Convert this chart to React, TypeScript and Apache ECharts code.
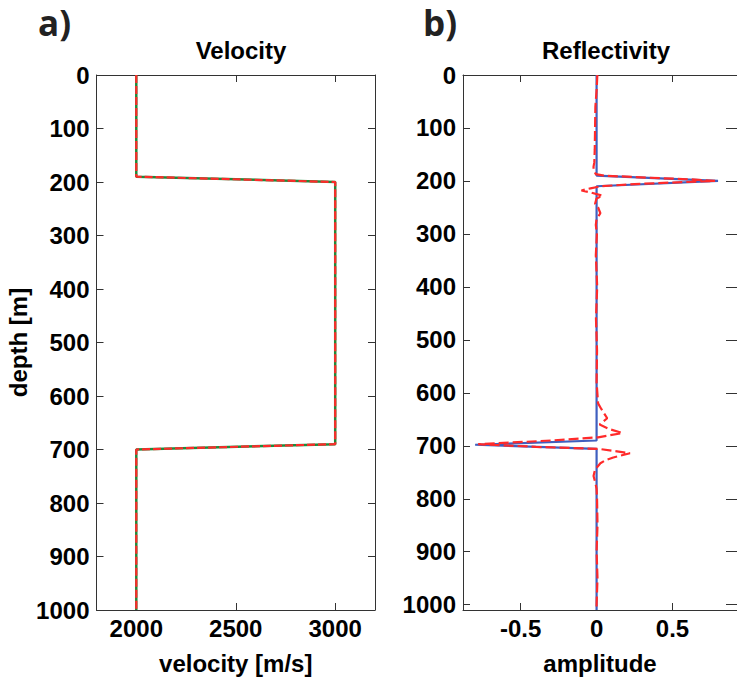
import React, { useEffect, useRef } from "react";
import * as echarts from "echarts";

// Velocity model (depth in m, velocity in m/s)
const velDepth = [0, 190, 200, 690, 700, 1000];
const trueVelocity = [2000, 2000, 3000, 3000, 2000, 2000];
const estVelocity = [2000, 2000, 3000, 3000, 2000, 2000];

// Reflectivity: true (blue)
const reflDepth = [0, 190, 200, 210, 690, 698, 706, 1010];
const reflTrue = [0, 0, 0.8, 0, 0, -0.8, 0, 0];

// Reflectivity: estimated (red dashed)
const estReflDepth = [
  0, 30, 60, 100, 140, 165, 173, 180, 187, 190, 194, 197, 200, 203, 206, 210, 214, 218, 221, 228, 233,
  243, 250, 261, 272, 283, 301, 340, 400, 460, 520, 580, 620, 630, 648, 660, 668, 676, 684, 690, 697,
  702, 706, 710, 714, 722, 727, 733, 745, 757, 770, 781, 800, 850, 900, 950, 1000, 1010,
];
const estRefl = [
  0.005, 0.0, -0.008, -0.01, -0.012, -0.015, -0.02, -0.02, -0.005, 0.05, 0.35, 0.62, 0.78, 0.5, 0.25,
  0.03, -0.04, -0.1, -0.05, 0.04, 0.0, -0.01, 0.01, 0.025, 0.0, -0.005, 0.002, -0.005, 0.004, -0.004,
  0.003, 0.0, 0.01, 0.03, 0.07, 0.02, 0.08, 0.17, 0.01, -0.3, -0.78, -0.4, 0.02, 0.12, 0.22, 0.11,
  0.06, 0.025, -0.01, -0.02, -0.008, 0.0, 0.003, 0.006, 0.0, 0.006, 0.0, 0.0,
];

const velTicks = [2000, 2500, 3000];
const ampTicks = [-0.5, 0, 0.5];
const depthTicks = [0, 100, 200, 300, 400, 500, 600, 700, 800, 900, 1000];

const FONT = "'Liberation Sans', Arial, sans-serif";
const AXIS_COLOR = "#333";

export default function App() {
  const ref = useRef<HTMLDivElement>(null);

  useEffect(() => {
    document.body.style.margin = "0";
    document.body.style.overflow = "hidden";
    if (!ref.current) return;
    const chart = echarts.init(ref.current, null, { renderer: "svg" });

    const tickStyle = { show: true, inside: true, length: 7, lineStyle: { color: AXIS_COLOR, width: 1 } };
    const lineStyle = { show: true, lineStyle: { color: AXIS_COLOR, width: 1 } };
    const labelStyle = {
      fontFamily: FONT,
      fontWeight: "bold" as const,
      fontSize: 24,
      color: "#000",
      formatter: (v: number) => String(v),
    };
    const nameStyle = { fontFamily: FONT, fontWeight: "bold" as const, fontSize: 24, color: "#000" };

    const xAxisPair = (gridIndex: number, min: number, max: number, ticks: number[], name: string) => [
      {
        type: "value",
        gridIndex,
        position: "bottom",
        min,
        max,
        name,
        nameLocation: "middle",
        nameGap: 41,
        nameTextStyle: nameStyle,
        axisLine: { ...lineStyle, onZero: false },
        axisTick: { ...tickStyle, customValues: ticks },
        axisLabel: { ...labelStyle, margin: 6, customValues: ticks },
        splitLine: { show: false },
      },
      {
        type: "value",
        gridIndex,
        position: "top",
        min,
        max,
        axisLine: { ...lineStyle, onZero: false },
        axisTick: { ...tickStyle, customValues: ticks },
        axisLabel: { show: false },
        splitLine: { show: false },
      },
    ];

    const yAxisPair = (gridIndex: number, max: number, name: string, rightLine: boolean, rightTickLen: number) => [
      {
        type: "value",
        gridIndex,
        position: "left",
        inverse: true,
        min: 0,
        max,
        name,
        nameLocation: "middle",
        nameGap: 66,
        nameRotate: 90,
        nameTextStyle: nameStyle,
        axisLine: { ...lineStyle, onZero: false },
        axisTick: { ...tickStyle, customValues: depthTicks },
        axisLabel: { ...labelStyle, margin: 7, customValues: depthTicks },
        splitLine: { show: false },
      },
      {
        type: "value",
        gridIndex,
        position: "right",
        inverse: true,
        min: 0,
        max,
        axisLine: { ...lineStyle, show: rightLine, onZero: false },
        axisTick: { ...tickStyle, length: rightTickLen, customValues: depthTicks },
        axisLabel: { show: false },
        splitLine: { show: false },
      },
    ];

    const zip = (xs: number[], ys: number[]) => xs.map((x, i) => [x, ys[i]]);

    chart.setOption({
      animation: false,
      backgroundColor: "#fff",
      title: [
        {
          text: "Velocity",
          left: 236,
          top: 33,
          textAlign: "center",
          textStyle: { fontFamily: FONT, fontWeight: "bold", fontSize: 24, color: "#000" },
        },
        {
          text: "Reflectivity",
          left: 601,
          top: 33,
          textAlign: "center",
          textStyle: { fontFamily: FONT, fontWeight: "bold", fontSize: 24, color: "#000" },
        },
      ],
      graphic: [
        {
          type: "text",
          left: 38,
          top: 5,
          style: { text: "a)", fontFamily: "'Open Sans', 'Noto Sans', sans-serif", fontWeight: "bold", fontSize: 35, fill: "#222" },
        },
        {
          type: "text",
          left: 423,
          top: 5,
          style: { text: "b)", fontFamily: "'Open Sans', 'Noto Sans', sans-serif", fontWeight: "bold", fontSize: 35, fill: "#222" },
        },
      ],
      grid: [
        { left: 96.5, top: 75, width: 278.5, height: 549 },
        { left: 463, top: 75, width: 282, height: 550 },
      ],
      xAxis: [
        ...xAxisPair(0, 1800, 3200, velTicks, "velocity [m/s]"),
        ...xAxisPair(1, -0.88, 0.925, ampTicks, "amplitude"),
      ],
      yAxis: [...yAxisPair(0, 1000, "depth [m]", true, 7), ...yAxisPair(1, 1010, "", false, 11)],
      series: [
        {
          type: "line",
          xAxisIndex: 0,
          yAxisIndex: 0,
          data: zip(trueVelocity, velDepth),
          symbol: "none",
          lineStyle: { color: "#1f8a3a", width: 2.5 },
        },
        {
          type: "line",
          xAxisIndex: 0,
          yAxisIndex: 0,
          data: zip(estVelocity, velDepth),
          symbol: "none",
          lineStyle: { color: "#ff2a2a", width: 2.2, type: [8, 3] },
        },
        {
          type: "line",
          xAxisIndex: 2,
          yAxisIndex: 2,
          data: zip(reflTrue, reflDepth),
          symbol: "none",
          lineStyle: { color: "#3f5fbf", width: 2.2 },
        },
        {
          type: "line",
          xAxisIndex: 2,
          yAxisIndex: 2,
          data: zip(estRefl, estReflDepth),
          symbol: "none",
          lineStyle: { color: "#ff2a2a", width: 2.2, type: [10, 4] },
        },
      ],
    });

    return () => chart.dispose();
  }, []);

  return <div ref={ref} style={{ width: 737, height: 680, overflow: "hidden" }} />;
}
